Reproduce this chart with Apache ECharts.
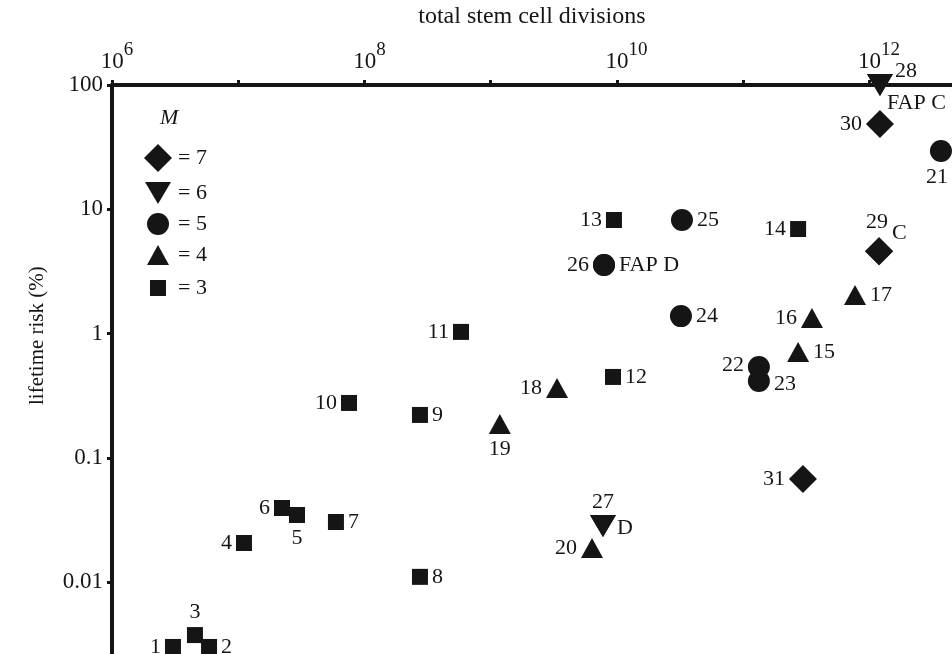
<!DOCTYPE html>
<html>
<head>
<meta charset="utf-8">
<script src="https://cdn.jsdelivr.net/npm/echarts@6/dist/echarts.min.js"></script>
<style>html,body{margin:0;padding:0;background:#fff}#c{width:952px;height:654px}</style>
</head>
<body>
<div id="c"></div>
<script>
// ---- data ----
const pointIds = [1,2,3,4,5,6,7,8,9,10,11,12,13,14,15,16,17,18,19,20,21,22,23,24,25,26,27,28,29,30,31];
const stemCellDivisions = [3.04e6,5.87e6,4.54e6,1.11e7,2.92e7,2.22e7,5.94e7,2.75e8,2.75e8,7.54e7,5.81e8,9.3e9,9.46e9,2.72e11,2.72e11,3.5e11,7.68e11,3.35e9,1.18e9,6.34e9,3.68e12,1.33e11,1.33e11,3.21e10,3.27e10,7.89e9,7.74e9,1.21e12,1.19e12,1.21e12,2.97e11];
const lifetimeRisk = [0.0030,0.0030,0.00374,0.0206,0.0346,0.0394,0.0304,0.011,0.221,0.276,1.03,0.447,8.19,6.93,0.71,1.33,2.04,0.364,0.187,0.0188,29.4,0.537,0.415,1.38,8.19,3.56,0.0282,100,4.6,48.6,0.0675];
const driverMutations = [3,3,3,3,3,3,3,3,3,3,3,3,3,3,4,4,4,4,4,4,5,5,5,5,5,5,6,6,7,7,7];
const mLevels = [7,6,5,4,3];
const annotationIds = [26,27,28,29];
const annotationTexts = ['FAP D','D','FAP C','C'];
const xTickExponents = [6,8,10,12];
const yTickLabels = {'-3':'0.001','-2':'0.01','-1':'0.1','0':'1','1':'10','2':'100'};

// ---- styles ----
const INK = '#151515';
const FONT = 'Liberation Serif';
const symbolStyle = {
  7: {symbol:'diamond', size:[28,28], rotate:0},
  6: {symbol:'triangle', size:[26,22], rotate:180},
  5: {symbol:'circle', size:[22,22], rotate:0},
  4: {symbol:'triangle', size:[22,20], rotate:0},
  3: {symbol:'rect', size:[16,16], rotate:0}
};
const legendIcon = {7:'diamond', 6:'path://M0,0L26,0L13,22Z', 5:'circle', 4:'triangle', 3:'rect'};
const labelPlacement = {
  1:['left'],2:['right'],3:['top'],4:['left'],5:['bottom'],6:['left'],7:['right'],8:['right'],9:['right'],
  10:['left'],11:['left'],12:['right'],13:['left'],14:['left'],15:['right'],16:['left'],17:['right'],
  18:['left'],19:['bottom'],20:['left'],21:['bottom',[-4,0]],22:['left',[0,-2]],23:['right',[0,3]],
  24:['right'],25:['right'],26:['left'],27:['top',[0,2]],28:['right',[-2,-14]],29:['top',[-2,0]],
  30:['left'],31:['left']
};
const annotationPlacement = {26:['right',[0,0]],27:['right',[-3,2]],28:['right',[-10,18]],29:['right',[-5,-18]]};

const labelBase = {color:INK, fontFamily:FONT, fontSize:22, distance:4, opacity:1, textBorderWidth:0};

const series = mLevels.map(m => {
  const st = symbolStyle[m];
  const data = [];
  pointIds.forEach((id, i) => {
    if (driverMutations[i] !== m) return;
    const pl = labelPlacement[id];
    data.push({
      value:[stemCellDivisions[i], lifetimeRisk[i]],
      label:{show:true, formatter:String(id), position:pl[0], offset:pl[1]||[0,0]}
    });
  });
  return {
    name:'= ' + m, type:'scatter', symbol:st.symbol, symbolSize:st.size, symbolRotate:st.rotate,
    itemStyle:{color:INK, opacity:1}, data,
    label:labelBase,
    emphasis:{disabled:true}, z:3
  };
});
// second labels: drawn on an identical copy of the marker
series.push({
  name:'annotations', type:'scatter',
  data: annotationIds.map((id, k) => {
    const i = pointIds.indexOf(id);
    const st = symbolStyle[driverMutations[i]];
    const pl = annotationPlacement[id];
    return {
      value:[stemCellDivisions[i], lifetimeRisk[i]],
      symbol:st.symbol, symbolSize:st.size, symbolRotate:st.rotate,
      label:{show:true, formatter:annotationTexts[k], position:pl[0], offset:pl[1], color:INK, opacity:1}
    };
  }),
  itemStyle:{color:INK, opacity:1},
  label:labelBase,
  emphasis:{disabled:true}, z:4
});

const legendCenters = {7:153, 6:188, 5:219, 4:250, 3:283};
const legends = mLevels.map(m => {
  const st = symbolStyle[m];
  const w = st.size[0], h = st.size[1];
  const left = 153 - w/2;
  const textStart = left + w + 5;
  return {
    show:true, data:[{name:'= ' + m, icon:legendIcon[m]}], left:left, top:legendCenters[m] - Math.max(h,22)/2,
    itemWidth:w, itemHeight:h, selectedMode:false, orient:'vertical',
    textStyle:{color:INK, fontFamily:FONT, fontSize:22, padding:[0,0,0,Math.max(0,173 - textStart)]},
    itemStyle:{color:INK}
  };
});

const chart = echarts.init(document.getElementById('c'), null, {renderer:'canvas'});
chart.setOption({
  animation:false,
  backgroundColor:'#fff',
  grid:{left:112, top:85, width:883.75, height:621.25, containLabel:false, outerBoundsMode:'none'},
  legend: legends,
  graphic:[{type:'text', left:160, top:107, style:{text:'M', font:'italic 22px "Liberation Serif"', fill:INK}}],
  xAxis:{
    type:'log', logBase:10, position:'top', min:1e6, max:1e13, splitNumber:7,
    name:'total stem cell divisions', nameLocation:'middle', nameGap:56,
    nameTextStyle:{color:INK, fontFamily:FONT, fontSize:24, padding:[0,44,0,0]},
    axisLine:{lineStyle:{color:INK, width:4}},
    axisTick:{show:true, length:5, lineStyle:{color:INK, width:3}},
    splitLine:{show:false},
    axisLabel:{
      margin:12, color:INK, fontFamily:FONT,
      formatter: v => {
        const e = Math.round(Math.log10(v));
        if (xTickExponents.indexOf(e) < 0) return '';
        const n = String(e).length;
        return '{p' + n + '|10}{s|' + e + '}';
      },
      rich:{
        p1:{fontSize:23, fontFamily:FONT, color:INK, lineHeight:32, verticalAlign:'bottom', padding:[0,0,0,10]},
        p2:{fontSize:23, fontFamily:FONT, color:INK, lineHeight:32, verticalAlign:'bottom', padding:[0,0,0,19]},
        s:{fontSize:19, fontFamily:FONT, color:INK, lineHeight:32, verticalAlign:'top'}
      }
    }
  },
  yAxis:{
    type:'log', logBase:10, min:0.001, max:100, splitNumber:5,
    name:'lifetime risk (%)', nameLocation:'middle', nameGap:64, nameRotate:90, nameMoveOverlap:false,
    nameTextStyle:{color:INK, fontFamily:FONT, fontSize:21, padding:[0,0,0,120]},
    axisLine:{lineStyle:{color:INK, width:4}},
    axisTick:{show:true, length:5, lineStyle:{color:INK, width:3}},
    splitLine:{show:false},
    axisLabel:{
      margin:9, color:INK, fontFamily:FONT, fontSize:23,
      formatter: v => yTickLabels[String(Math.round(Math.log10(v)))] || ''
    }
  },
  series
});
</script>
</body>
</html>
